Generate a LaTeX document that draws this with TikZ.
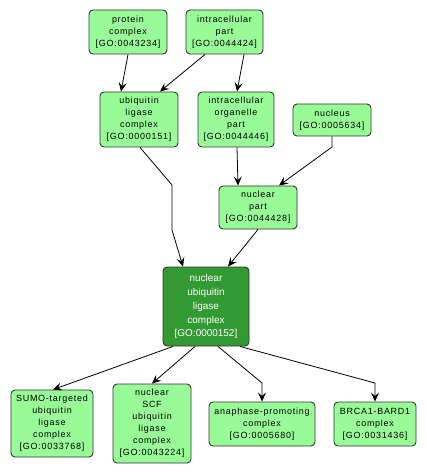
\documentclass[tikz,border=0pt]{standalone}
\usepackage{fontspec}
\setmainfont{Liberation Sans}
\newfontfamily\gofont[LetterSpace=8.5]{Liberation Sans}
\usetikzlibrary{arrows.meta}
\definecolor{lgreen}{HTML}{98FB98}
\definecolor{dgreen}{HTML}{339933}
\definecolor{edgegray}{HTML}{333333}
\tikzset{
  goterm/.style={draw=edgegray, line width=0.9bp, rounded corners=4bp, fill=lgreen, align=center, inner sep=0pt,
    font=\gofont\fontsize{9}{12}\selectfont},
  gomain/.style={draw=edgegray, line width=0.9bp, rounded corners=4bp, fill=dgreen, text=white, align=center, inner sep=0pt,
    font=\fontsize{10}{14}\selectfont},
  arr/.style={draw=black, line width=0.8bp, -{Stealth[length=9bp,width=8bp,inset=3.5bp]}}
}
\begin{document}
\begin{tikzpicture}[x=1bp,y=-1bp]
\useasboundingbox (0,0) rectangle (425,475);
\node[goterm, minimum width=78bp, minimum height=44bp] (pc) at (128,32) {protein\\complex\\{}[GO:0043234]};
\node[goterm, minimum width=77bp, minimum height=44bp] (ip) at (224.5,32) {intracellular\\part\\{}[GO:0044424]};
\node[goterm, minimum width=78bp, minimum height=55bp] (ulc) at (139,119.5) {ubiquitin\\ligase\\complex\\{}[GO:0000151]};
\node[goterm, minimum width=76bp, minimum height=55bp] (iop) at (236,119.5) {intracellular\\organelle\\part\\{}[GO:0044446]};
\node[goterm, minimum width=78bp, minimum height=32bp] (nuc) at (332,120) {nucleus\\{}[GO:0005634]};
\node[goterm, minimum width=78bp, minimum height=43bp] (np) at (258,207.5) {nuclear\\part\\{}[GO:0044428]};
\node[gomain, minimum width=86bp, minimum height=79bp] (nulc) at (206,306.5) {nuclear\\ubiquitin\\ligase\\complex\\{}[GO:0000152]};
\node[goterm, minimum width=82bp, minimum height=67bp] (sumo) at (52,423.5) {SUMO-targeted\\ubiquitin\\ligase\\complex\\{}[GO:0033768]};
\node[goterm, minimum width=78bp, minimum height=79bp] (scf) at (152,423.5) {nuclear\\SCF\\ubiquitin\\ligase\\complex\\{}[GO:0043224]};
\node[goterm, minimum width=106bp, minimum height=44bp] (ana) at (262,424) {anaphase-promoting\\complex\\{}[GO:0005680]};
\node[goterm, minimum width=82bp, minimum height=44bp] (brca) at (375,424) {BRCA1-BARD1\\complex\\{}[GO:0031436]};
\coordinate (b1) at (172,185);
\coordinate (b2) at (172,230);
\coordinate (b3) at (332,147);
\coordinate (b4) at (262,383);
\coordinate (b5) at (375,383);
\draw[arr] (pc.south) -- ([xshift=-18bp]ulc.north);
\draw[arr] ([xshift=-19.5bp]ip.south) -- ([xshift=21bp]ulc.north);
\draw[arr] ([xshift=19.5bp]ip.south) -- ([xshift=1bp]iop.north);
\draw[arr] ([xshift=1bp]ulc.south) -- (b1) -- (b2) -- ([xshift=-23bp]nulc.north);
\draw[arr] ([xshift=1bp]iop.south) -- ([xshift=-20bp]np.north);
\draw[arr] (nuc.south) -- (b3) -- ([xshift=21bp]np.north);
\draw[arr] (np.south) -- ([xshift=22bp]nulc.north);
\draw[arr] ([xshift=-33bp]nulc.south) -- ([xshift=1bp]sumo.north);
\draw[arr] ([xshift=-11bp]nulc.south) -- (scf.north);
\draw[arr] ([xshift=12bp]nulc.south) -- (b4) -- (ana.north);
\draw[arr] ([xshift=34bp]nulc.south) -- (b5) -- (brca.north);
\end{tikzpicture}
\end{document}
